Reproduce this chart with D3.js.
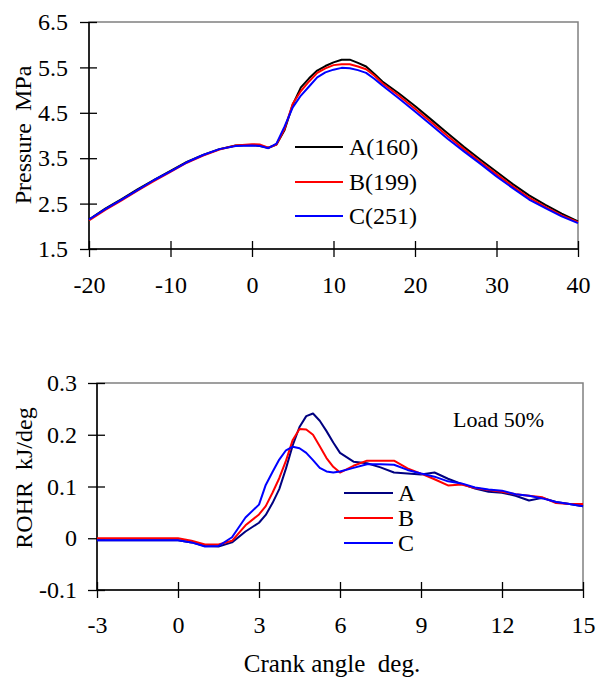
<!DOCTYPE html>
<html>
<head>
<meta charset="utf-8">
<script src="https://cdn.jsdelivr.net/npm/d3@7"></script>
<style>
  body { margin: 0; background: #fff; }
  text { font-family: "Liberation Serif", "Times New Roman", serif; fill: #000; }
</style>
</head>
<body>
<div id="chart"></div>
<script>

// pressure panel (crank angle deg -> MPa)
var pAngle = [-20, -18, -16, -14, -12, -10, -8, -6, -4, -2, 0, 1, 2, 3, 4, 5, 6, 7, 8, 9, 10, 11, 12, 13, 14, 15, 16, 18, 20, 22, 24, 26, 28, 30, 32, 34, 36, 38, 40];
var pA = [2.15, 2.39, 2.60, 2.82, 3.02, 3.22, 3.42, 3.57, 3.70, 3.78, 3.79, 3.77, 3.73, 3.80, 4.12, 4.68, 5.06, 5.26, 5.43, 5.53, 5.61, 5.67, 5.67, 5.60, 5.52, 5.36, 5.19, 4.93, 4.65, 4.35, 4.05, 3.75, 3.47, 3.20, 2.93, 2.68, 2.47, 2.28, 2.11];
var pB = [2.13, 2.36, 2.57, 2.79, 3.00, 3.20, 3.40, 3.56, 3.69, 3.78, 3.81, 3.80, 3.73, 3.80, 4.15, 4.70, 4.98, 5.19, 5.38, 5.48, 5.55, 5.57, 5.57, 5.52, 5.46, 5.32, 5.15, 4.88, 4.59, 4.29, 3.99, 3.70, 3.42, 3.15, 2.88, 2.63, 2.43, 2.24, 2.09];
var pC = [2.15, 2.38, 2.59, 2.80, 3.02, 3.21, 3.41, 3.57, 3.70, 3.77, 3.78, 3.77, 3.72, 3.82, 4.20, 4.62, 4.88, 5.08, 5.28, 5.39, 5.45, 5.49, 5.48, 5.44, 5.38, 5.25, 5.10, 4.82, 4.53, 4.23, 3.93, 3.65, 3.38, 3.10, 2.84, 2.59, 2.40, 2.22, 2.07];
var pNames = ["A(160)", "B(199)", "C(251)"];
var pColors = ["#000000", "#ff0000", "#0000ff"];
var pXTicks = [-20, -10, 0, 10, 20, 30, 40];
var pYTicks = [1.5, 2.5, 3.5, 4.5, 5.5, 6.5];

// rate of heat release panel (crank angle deg -> kJ/deg)
var rAngle = [-3, 0, 0.5, 1, 1.5, 2, 2.5, 3, 3.25, 3.5, 3.75, 4, 4.25, 4.5, 4.75, 5, 5.25, 5.5, 5.75, 6, 6.5, 7, 7.5, 8, 8.5, 9, 9.5, 10, 10.5, 11, 11.5, 12, 12.5, 13, 13.5, 14, 14.5, 15];
var rA = [-0.004, -0.004, -0.008, -0.015, -0.016, -0.008, 0.013, 0.030, 0.045, 0.068, 0.095, 0.135, 0.180, 0.215, 0.236, 0.241, 0.227, 0.207, 0.185, 0.165, 0.148, 0.145, 0.137, 0.127, 0.125, 0.123, 0.127, 0.115, 0.105, 0.096, 0.090, 0.088, 0.082, 0.073, 0.078, 0.070, 0.066, 0.062];
var rB = [0.000, 0.000, -0.005, -0.012, -0.012, -0.005, 0.025, 0.046, 0.062, 0.088, 0.116, 0.150, 0.190, 0.211, 0.210, 0.200, 0.178, 0.155, 0.138, 0.127, 0.140, 0.150, 0.150, 0.150, 0.135, 0.125, 0.114, 0.102, 0.104, 0.097, 0.093, 0.090, 0.085, 0.082, 0.079, 0.068, 0.066, 0.066];
var rC = [-0.004, -0.004, -0.008, -0.016, -0.015, 0.002, 0.040, 0.065, 0.103, 0.128, 0.152, 0.170, 0.177, 0.174, 0.165, 0.151, 0.136, 0.129, 0.127, 0.129, 0.136, 0.143, 0.143, 0.142, 0.132, 0.125, 0.119, 0.110, 0.106, 0.098, 0.094, 0.092, 0.085, 0.082, 0.077, 0.070, 0.066, 0.062];
var rNames = ["A", "B", "C"];
var rColors = ["#000080", "#ff0000", "#0000ff"];
var rXTicks = [-3, 0, 3, 6, 9, 12, 15];
var rYTicks = [-0.1, 0, 0.1, 0.2, 0.3];

var svg = d3.select("#chart").append("svg")
  .attr("width", 604)
  .attr("height", 679)
  .style("background", "#fff");

// draws one framed panel with cross ticks, lines and legend
function drawPanel(cfg) {
  var x = d3.scaleLinear().domain(cfg.xDomain).range(cfg.xRange);
  var y = d3.scaleLinear().domain(cfg.yDomain).range(cfg.yRange);
  var g = svg.append("g");

  // gray frame (top / right), black axes drawn after
  g.append("rect")
    .attr("x", cfg.xRange[0])
    .attr("y", cfg.yRange[1])
    .attr("width", cfg.xRange[1] - cfg.xRange[0])
    .attr("height", cfg.yRange[0] - cfg.yRange[1])
    .attr("fill", "none")
    .attr("stroke", "#808080")
    .attr("stroke-width", 1.5);

  // y axis, outer ticks + labels
  var yAx = g.append("g")
    .attr("transform", "translate(" + cfg.xRange[0] + ",0)")
    .call(d3.axisLeft(y).tickValues(cfg.yTicks).tickSize(9).tickPadding(cfg.yPad).tickFormat(cfg.yFormat))
    .attr("font-size", 24).attr("font-family", null);
  // inner half of the cross ticks
  var yIn = g.append("g")
    .attr("transform", "translate(" + cfg.xRange[0] + ",0)")
    .call(d3.axisRight(y).tickValues(cfg.yTicks).tickSize(8).tickFormat(""));

  // x axis
  var xAx = g.append("g")
    .attr("transform", "translate(0," + cfg.yRange[0] + ")")
    .call(d3.axisBottom(x).tickValues(cfg.xTicks).tickSize(8).tickFormat(function (d) { return String(d); }))
    .attr("font-size", 24).attr("font-family", null);
  xAx.selectAll("text").attr("dy", null).attr("y", cfg.xLabelY);
  var xIn = g.append("g")
    .attr("transform", "translate(0," + cfg.yRange[0] + ")")
    .call(d3.axisTop(x).tickValues(cfg.xTicks).tickSize(8).tickFormat(""));

  [yAx, yIn, xAx, xIn].forEach(function (a) {
    a.select(".domain").remove();
    a.selectAll("line").attr("stroke", "#000").attr("stroke-width", 1.3);
  });

  // black left + bottom axis lines
  g.append("line")
    .attr("x1", cfg.xRange[0]).attr("x2", cfg.xRange[0])
    .attr("y1", cfg.yRange[0]).attr("y2", cfg.yRange[1])
    .attr("stroke", "#000").attr("stroke-width", 1.5);
  g.append("line")
    .attr("x1", cfg.xRange[0]).attr("x2", cfg.xRange[1])
    .attr("y1", cfg.yRange[0]).attr("y2", cfg.yRange[0])
    .attr("stroke", "#000").attr("stroke-width", 1.5);

  // y title
  g.append("text")
    .attr("transform", "translate(" + cfg.yTitleX + "," + cfg.yTitleY + ") rotate(-90)")
    .attr("text-anchor", "middle")
    .attr("font-size", 24)
    .style("white-space", "pre")
    .text(cfg.yTitle);

  // series lines
  var line = d3.line()
    .x(function (d) { return x(d[0]); })
    .y(function (d) { return y(d[1]); });

  cfg.series.forEach(function (s, i) {
    var pts = cfg.angle.map(function (a, j) { return [a, s[j]]; });
    g.append("path")
      .datum(pts)
      .attr("fill", "none")
      .attr("stroke", cfg.colors[i])
      .attr("stroke-width", 2)
      .attr("stroke-linejoin", "round")
      .attr("d", line);
  });

  // legend
  cfg.names.forEach(function (n, i) {
    var ly = cfg.legY[i];
    g.append("line")
      .attr("x1", cfg.legX[0]).attr("x2", cfg.legX[1])
      .attr("y1", ly).attr("y2", ly)
      .attr("stroke", cfg.colors[i]).attr("stroke-width", 2);
    g.append("text")
      .attr("x", cfg.legX[2])
      .attr("y", ly + 8)
      .attr("font-size", 24)
      .text(n);
  });

  return g;
}

drawPanel({
  xDomain: [-20, 40], xRange: [89, 578],
  yDomain: [1.5, 6.5], yRange: [249, 22],
  xTicks: pXTicks, yTicks: pYTicks,
  yFormat: function (d) { return d.toFixed(1); },
  yPad: 12, xLabelY: 44,
  yTitle: "Pressure  MPa", yTitleX: 31, yTitleY: 135,
  angle: pAngle, series: [pA, pB, pC],
  colors: pColors, names: pNames,
  legX: [295, 343, 349], legY: [147, 182, 216]
});

var bottom = drawPanel({
  xDomain: [-3, 15], xRange: [97, 583],
  yDomain: [-0.1, 0.3], yRange: [590, 383],
  xTicks: rXTicks, yTicks: rYTicks,
  yFormat: function (d) { return d === 0 ? "0" : d.toFixed(1); },
  yPad: 11, xLabelY: 43,
  yTitle: "ROHR  kJ/deg", yTitleX: 32, yTitleY: 478,
  angle: rAngle, series: [rA, rB, rC],
  colors: rColors, names: rNames,
  legX: [344, 393, 398], legY: [493, 518, 543]
});

// annotation + x title
bottom.append("text")
  .attr("x", 453).attr("y", 427)
  .attr("font-size", 22)
  .text("Load 50%");

bottom.append("text")
  .attr("x", 332).attr("y", 672)
  .attr("text-anchor", "middle")
  .attr("font-size", 25)
  .style("white-space", "pre")
  .text("Crank angle  deg.");

</script>
</body>
</html>
